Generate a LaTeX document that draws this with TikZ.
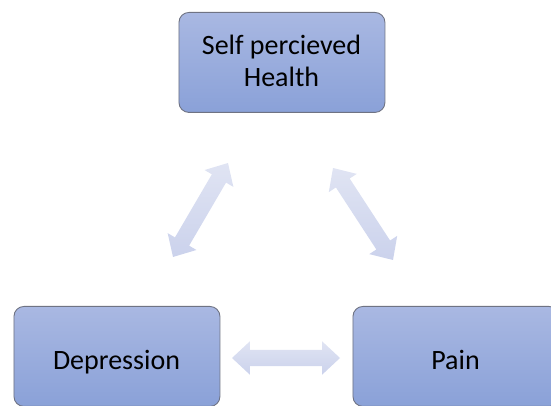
\documentclass[tikz,border=0pt]{standalone}
\usepackage{fontspec}
\setmainfont{Carlito}
\usetikzlibrary{shapes.arrows,calc}
\definecolor{boxtop}{HTML}{A9B8E2}
\definecolor{boxbot}{HTML}{8AA1D8}
\definecolor{boxline}{HTML}{6F7383}
\definecolor{arrtop}{HTML}{E0E4F3}
\definecolor{arrbot}{HTML}{CBD2EC}
\tikzset{
  x=1pt,y=1pt,
  boxnode/.style={draw=boxline,line width=0.9pt,rounded corners=10pt,
    top color=boxtop,bottom color=boxbot,minimum width=206pt,minimum height=100pt,
    inner sep=0pt,anchor=north west},
  lbl/.style={font=\fontsize{28}{33}\selectfont,inner sep=0pt,anchor=base,text=black},
  fatarrow/.style={double arrow,inner xsep=0pt,inner ysep=8pt,minimum width=33pt,
    double arrow head extend=8.5pt,double arrow tip angle=86,
    top color=arrtop,bottom color=arrbot,draw=none}
}
\begin{document}
\begin{tikzpicture}
\useasboundingbox (0,0) rectangle (551,406);
\node[boxnode] (health) at (178.5,394) {};
\node[boxnode] (depr) at (13.5,100) {};
\node[boxnode] (pain) at (352.5,100) {};
\node[lbl] (t1) at (281.5,351) {Self percieved};
\node[lbl] (t2) at (281.5,319) {Health};
\node[lbl] (t3) at (116.5,36) {Depression};
\node[lbl] (t4) at (455.5,36) {Pain};
\coordinate (a1) at (173,149);
\coordinate (b1) at (228,243);
\coordinate (a2) at (333,238);
\coordinate (b2) at (393,146);
\coordinate (a3) at (232,48);
\coordinate (b3) at (340,48);
\foreach \s/\e/\nm in {a1/b1/ar1,a2/b2/ar2,a3/b3/ar3}{
  \path let \p1=($(\e)-(\s)$), \n1={atan2(\y1,\x1)}, \n2={veclen(\x1,\y1)} in
    node[fatarrow,rotate=\n1,minimum height=\n2] (\nm) at ($(\s)!0.5!(\e)$) {};
}
\end{tikzpicture}
\end{document}
